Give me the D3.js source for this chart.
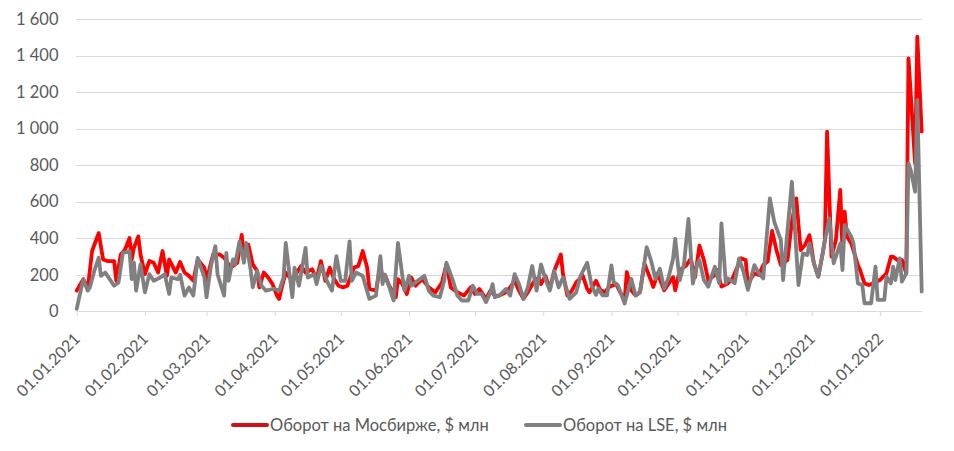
<!DOCTYPE html>
<html><head><meta charset="utf-8">
<script src="https://cdn.jsdelivr.net/npm/d3@7"></script>
<style>
html,body{margin:0;padding:0;background:#fff;}
svg{display:block;}
text{font-family:Lato,"Liberation Sans",Arial,sans-serif;fill:#595959;}
</style></head>
<body>
<svg id="chart" width="954" height="451"></svg>
<script>
const mosDates = ["2021-01-01","2021-01-04","2021-01-06","2021-01-08","2021-01-11","2021-01-13","2021-01-15","2021-01-18","2021-01-19","2021-01-21","2021-01-23","2021-01-25","2021-01-26","2021-01-27","2021-01-29","2021-01-30","2021-02-01","2021-02-03","2021-02-05","2021-02-07","2021-02-09","2021-02-11","2021-02-12","2021-02-15","2021-02-17","2021-02-19","2021-02-21","2021-02-23","2021-02-25","2021-02-28","2021-03-01","2021-03-03","2021-03-04","2021-03-07","2021-03-09","2021-03-12","2021-03-15","2021-03-17","2021-03-18","2021-03-20","2021-03-22","2021-03-24","2021-03-25","2021-03-27","2021-03-29","2021-03-31","2021-04-02","2021-04-03","2021-04-04","2021-04-06","2021-04-09","2021-04-11","2021-04-13","2021-04-15","2021-04-18","2021-04-20","2021-04-22","2021-04-24","2021-04-26","2021-04-28","2021-04-30","2021-05-02","2021-05-04","2021-05-07","2021-05-09","2021-05-11","2021-05-13","2021-05-14","2021-05-17","2021-05-19","2021-05-20","2021-05-21","2021-05-23","2021-05-26","2021-05-27","2021-05-29","2021-05-31","2021-06-02","2021-06-04","2021-06-07","2021-06-10","2021-06-13","2021-06-16","2021-06-18","2021-06-20","2021-06-23","2021-06-26","2021-06-29","2021-07-01","2021-07-03","2021-07-06","2021-07-08","2021-07-10","2021-07-12","2021-07-15","2021-07-17","2021-07-19","2021-07-21","2021-07-23","2021-07-25","2021-07-28","2021-07-30","2021-07-31","2021-08-02","2021-08-04","2021-08-06","2021-08-09","2021-08-10","2021-08-12","2021-08-14","2021-08-16","2021-08-19","2021-08-21","2021-08-22","2021-08-25","2021-08-27","2021-08-29","2021-08-31","2021-09-03","2021-09-05","2021-09-07","2021-09-08","2021-09-10","2021-09-12","2021-09-14","2021-09-16","2021-09-19","2021-09-20","2021-09-22","2021-09-25","2021-09-27","2021-09-29","2021-09-30","2021-10-02","2021-10-05","2021-10-07","2021-10-09","2021-10-11","2021-10-13","2021-10-15","2021-10-18","2021-10-19","2021-10-21","2021-10-24","2021-10-26","2021-10-28","2021-10-30","2021-11-01","2021-11-02","2021-11-05","2021-11-07","2021-11-09","2021-11-11","2021-11-13","2021-11-15","2021-11-17","2021-11-20","2021-11-22","2021-11-24","2021-11-26","2021-11-28","2021-11-30","2021-12-02","2021-12-04","2021-12-06","2021-12-07","2021-12-08","2021-12-10","2021-12-12","2021-12-14","2021-12-15","2021-12-16","2021-12-17","2021-12-19","2021-12-22","2021-12-23","2021-12-25","2021-12-27","2021-12-29","2022-01-01","2022-01-04","2022-01-06","2022-01-07","2022-01-10","2022-01-11","2022-01-13","2022-01-14","2022-01-17","2022-01-18","2022-01-20"];
const mosValues = [113,176,122,330,428,284,275,275,167,311,338,401,284,347,410,311,203,275,266,212,330,194,284,212,270,212,194,167,284,239,167,266,311,311,293,239,266,419,293,365,257,221,131,212,185,149,86,68,122,212,167,212,248,212,230,176,275,167,239,176,140,131,140,239,248,330,239,122,113,248,185,200,140,77,176,149,95,185,140,176,131,104,158,257,131,104,86,131,95,122,68,113,86,86,104,131,167,113,68,104,167,185,149,194,122,221,311,203,86,113,158,194,122,104,167,115,105,133,151,105,60,215,115,87,105,260,169,133,206,115,151,187,115,224,251,288,187,360,281,171,199,226,135,153,180,235,290,281,153,208,199,253,272,440,335,253,281,490,618,335,363,417,263,190,317,390,983,299,390,664,336,545,409,372,254,226,153,144,153,171,208,299,299,272,281,208,1384,810,1503,983];

const lseDates = ["2021-01-01","2021-01-04","2021-01-06","2021-01-07","2021-01-09","2021-01-11","2021-01-12","2021-01-14","2021-01-16","2021-01-18","2021-01-20","2021-01-22","2021-01-25","2021-01-26","2021-01-27","2021-01-28","2021-01-30","2021-02-01","2021-02-03","2021-02-05","2021-02-08","2021-02-10","2021-02-12","2021-02-13","2021-02-16","2021-02-17","2021-02-19","2021-02-21","2021-02-23","2021-02-25","2021-02-28","2021-03-01","2021-03-03","2021-03-05","2021-03-06","2021-03-09","2021-03-10","2021-03-11","2021-03-13","2021-03-14","2021-03-16","2021-03-18","2021-03-19","2021-03-21","2021-03-22","2021-03-24","2021-03-26","2021-03-28","2021-03-31","2021-04-01","2021-04-03","2021-04-05","2021-04-06","2021-04-09","2021-04-10","2021-04-12","2021-04-15","2021-04-16","2021-04-19","2021-04-20","2021-04-22","2021-04-25","2021-04-27","2021-04-29","2021-05-01","2021-05-03","2021-05-05","2021-05-06","2021-05-08","2021-05-11","2021-05-14","2021-05-17","2021-05-19","2021-05-20","2021-05-21","2021-05-23","2021-05-25","2021-05-27","2021-05-29","2021-05-30","2021-06-01","2021-06-02","2021-06-05","2021-06-08","2021-06-10","2021-06-12","2021-06-15","2021-06-17","2021-06-18","2021-06-21","2021-06-23","2021-06-25","2021-06-28","2021-06-30","2021-07-02","2021-07-04","2021-07-06","2021-07-08","2021-07-09","2021-07-10","2021-07-12","2021-07-15","2021-07-17","2021-07-19","2021-07-21","2021-07-23","2021-07-25","2021-07-27","2021-07-29","2021-07-31","2021-08-02","2021-08-04","2021-08-06","2021-08-08","2021-08-10","2021-08-13","2021-08-16","2021-08-18","2021-08-21","2021-08-23","2021-08-25","2021-08-26","2021-08-28","2021-08-30","2021-09-01","2021-09-02","2021-09-04","2021-09-07","2021-09-09","2021-09-10","2021-09-12","2021-09-14","2021-09-17","2021-09-19","2021-09-21","2021-09-23","2021-09-25","2021-09-27","2021-09-29","2021-09-30","2021-10-02","2021-10-04","2021-10-06","2021-10-08","2021-10-10","2021-10-11","2021-10-13","2021-10-15","2021-10-18","2021-10-20","2021-10-21","2021-10-23","2021-10-24","2021-10-27","2021-10-29","2021-10-31","2021-11-02","2021-11-05","2021-11-07","2021-11-09","2021-11-12","2021-11-14","2021-11-17","2021-11-18","2021-11-22","2021-11-25","2021-11-27","2021-11-29","2021-11-30","2021-12-02","2021-12-04","2021-12-06","2021-12-07","2021-12-09","2021-12-11","2021-12-13","2021-12-14","2021-12-15","2021-12-16","2021-12-19","2021-12-20","2021-12-22","2021-12-24","2021-12-25","2021-12-28","2021-12-30","2021-12-31","2022-01-03","2022-01-04","2022-01-06","2022-01-07","2022-01-08","2022-01-10","2022-01-11","2022-01-13","2022-01-14","2022-01-15","2022-01-17","2022-01-18","2022-01-20"];
const lseValues = [14,176,113,131,221,293,194,212,176,140,158,320,329,176,266,113,257,104,203,167,185,203,95,185,176,200,86,131,86,293,185,77,248,356,203,86,320,167,284,257,383,266,374,230,131,221,140,113,122,122,113,185,374,77,239,140,347,185,203,149,248,158,113,302,167,167,383,167,212,194,68,86,302,149,200,135,59,374,194,113,194,140,167,194,113,86,77,167,266,167,86,59,59,140,95,95,50,104,149,77,86,122,86,203,149,68,131,248,113,257,176,113,221,131,185,68,104,194,266,140,90,124,87,87,251,160,142,42,133,178,87,105,351,278,178,233,124,187,288,397,169,260,506,151,260,280,171,135,244,153,481,153,180,153,290,217,117,253,208,180,618,490,390,171,709,144,317,308,372,263,190,317,390,509,263,336,372,226,472,409,372,153,144,44,44,244,62,62,190,153,244,171,290,162,208,810,773,655,1156,108];

const yTicks = [0,200,400,600,800,1000,1200,1400,1600];
const xTickDates = ["2021-01-01","2021-02-01","2021-03-01","2021-04-01","2021-05-01","2021-06-01","2021-07-01","2021-08-01","2021-09-01","2021-10-01","2021-11-01","2021-12-01","2022-01-01"];
const seriesNames = ["Оборот на Мосбирже, $ млн","Оборот на LSE, $ млн"];
const seriesColors = ["#ff0000","#808080"];

const parse = d3.utcParse("%Y-%m-%d");
const fmtDate = d3.utcFormat("%d.%m.%Y");
const fmtY = v => d3.format(",")(v).replace(/,/g, "\u00a0");

const svg = d3.select("#chart");
const x = d3.scaleUtc().domain([parse("2021-01-01"), parse("2022-01-20")]).range([76.7, 921.7]);
const y = d3.scaleLinear().domain([0,1600]).range([311.3, 19]);

// gridlines
svg.append("g").selectAll("line").data(yTicks.filter(v=>v>0)).join("line")
  .attr("x1", 76).attr("x2", 922).attr("y1", d=>Math.round(y(d))+0.5).attr("y2", d=>Math.round(y(d))+0.5)
  .attr("stroke", "#d9d9d9").attr("stroke-width", 1);

// y labels
svg.append("g").selectAll("text").data(yTicks).join("text")
  .attr("x", 58.5).attr("y", d=>y(d)).attr("dy","0.35em")
  .attr("text-anchor","end").style("font-size","16.5px")
  .text(d=>fmtY(d));

// x axis
const xAxis = d3.axisBottom(x).tickValues(xTickDates.map(parse)).tickSize(5).tickFormat(fmtDate);
const gx = svg.append("g").attr("transform", `translate(0,${Math.round(y(0))})`).call(xAxis);
gx.select(".domain").attr("stroke","#d9d9d9").attr("d", `M76,0.5H922`);
gx.selectAll(".tick line").attr("stroke","#d9d9d9");
gx.selectAll(".tick text")
  .attr("fill","#595959").style("font-size","16px").style("font-family",'Lato,"Liberation Sans",Arial,sans-serif')
  .attr("text-anchor","end").attr("dy","0.35em")
  .attr("transform","translate(0,25) rotate(-45)")
  .attr("y",0).attr("x",0);

const line = d3.line().x(d=>x(d.date)).y(d=>y(d.value));
const mos = mosDates.map((d,i)=>({date:parse(d), value:mosValues[i]}));
const lse = lseDates.map((d,i)=>({date:parse(d), value:lseValues[i]}));

svg.append("path").datum(mos).attr("d", line).attr("fill","none")
  .attr("stroke", seriesColors[0]).attr("stroke-width", 3.8).attr("stroke-linejoin","round").attr("stroke-linecap","round");
svg.append("path").datum(lse).attr("d", line).attr("fill","none")
  .attr("stroke", seriesColors[1]).attr("stroke-width", 3.8).attr("stroke-linejoin","round").attr("stroke-linecap","round");

// legend
const legX = [233, 526];
const lg = svg.append("g").selectAll("g").data(seriesNames).join("g")
  .attr("transform",(d,i)=>`translate(${legX[i]},425)`);
lg.append("line").attr("x1",0).attr("x2",34).attr("y1",0).attr("y2",0)
  .attr("stroke",(d,i)=>i===0?"#d0101a":seriesColors[1]).attr("stroke-width",4).attr("stroke-linecap","round");
lg.append("text").attr("x",37).attr("y",0).attr("dy","0.35em").style("font-size","16.5px").text(d=>d);
</script>
</body></html>
